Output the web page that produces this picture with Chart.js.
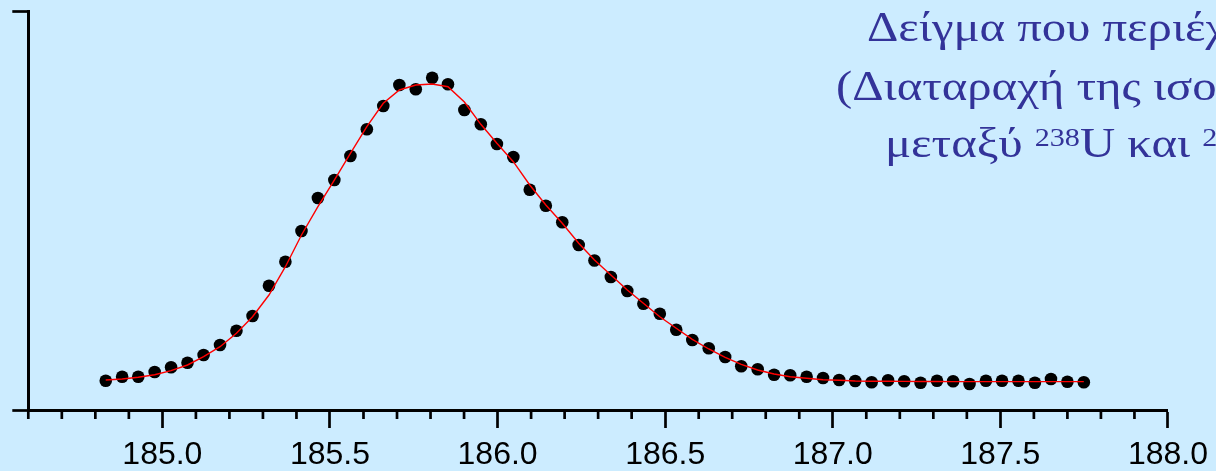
<!DOCTYPE html>
<html><head><meta charset="utf-8">
<script src="https://cdn.jsdelivr.net/npm/chart.js@4.4.1/dist/chart.umd.min.js"></script>
<style>
html,body{margin:0;padding:0;background:#CCECFF;overflow:hidden}
#wrap{position:relative;width:1216px;height:471px;overflow:hidden;background:#CCECFF}
canvas{position:absolute;left:0;top:0}
.t{position:absolute;font-family:"Liberation Serif","Times New Roman",serif;font-size:42px;line-height:42px;color:#333399;white-space:nowrap;transform:scaleX(1.16);transform-origin:0 0}
.s{font-size:26px;position:relative;top:-11px}
</style></head>
<body>
<div id="wrap">
<canvas id="c" width="1216" height="471"></canvas>
<div class="t" style="left:867px;top:6px">Δείγμα που περιέχει ουράνιο</div>
<div class="t" style="left:836px;top:65px">(Διαταραχή της ισορροπίας</div>
<div class="t" style="left:885px;top:122px">μεταξύ <span class="s">238</span>U και <span class="s">234</span>U)</div>
</div>
<script>
const xValues = [184.831,184.880,184.928,184.977,185.026,185.075,185.123,185.172,185.221,185.269,
185.318,185.367,185.415,185.464,185.513,185.561,185.610,185.659,185.707,185.756,
185.805,185.852,185.901,185.950,185.998,186.047,186.096,186.144,186.193,186.242,
186.289,186.338,186.387,186.435,186.484,186.533,186.581,186.630,186.679,186.727,
186.776,186.825,186.873,186.922,186.971,187.019,187.067,187.116,187.165,187.213,
187.262,187.311,187.359,187.408,187.457,187.505,187.554,187.603,187.651,187.700,187.749];
const yMeasured = [7.34,8.35,8.35,9.52,10.70,11.85,13.78,16.29,19.87,23.56,
31.15,37.17,44.86,53.13,57.64,63.66,70.35,76.19,81.45,80.38,
83.28,81.63,75.19,71.60,66.67,63.41,55.21,51.20,47.04,41.35,
37.47,33.33,29.82,26.64,24.14,20.13,17.54,15.46,13.28,10.95,
10.20,8.85,8.70,8.35,8.02,7.52,7.27,6.94,7.44,7.19,
6.84,7.34,7.19,6.52,7.34,7.34,7.34,6.84,7.77,7.09,6.94];
const yFit = [7.52,7.77,8.20,8.85,9.85,11.28,13.36,15.86,19.22,23.38,
28.82,35.91,43.86,50.95,57.64,64.34,71.00,76.87,80.20,81.45,
81.70,81.03,77.19,71.60,66.84,62.23,56.39,51.38,46.79,41.78,
37.59,33.83,30.08,26.74,23.38,20.48,17.72,15.29,13.21,11.45,
10.03,9.02,8.35,7.94,7.59,7.44,7.27,7.22,7.20,7.18,
7.15,7.13,7.12,7.10,7.10,7.10,7.10,7.10,7.10,7.10,7.10];
const xTickLabels = ['185.0','185.5','186.0','186.5','187.0','187.5','188.0'];
const xMin = 184.6, xMax = 188.0, xMinorStep = 0.1;
const yMin = 0, yMax = 100;

function isMajor(v){ return xTickLabels.includes((+v).toFixed(1)); }

const minorTicks = {
  id:'minorTicks',
  afterDraw(chart){
    const xs = chart.scales.x, ctx = chart.ctx;
    ctx.save();
    ctx.strokeStyle = '#000'; ctx.lineWidth = 2.7;
    xs.ticks.forEach(t => {
      if (!isMajor(t.value)) {
        const px = xs.getPixelForValue(t.value);
        ctx.beginPath(); ctx.moveTo(px, xs.top); ctx.lineTo(px, xs.top + 9); ctx.stroke();
      }
    });
    ctx.restore();
  }
};

new Chart(document.getElementById('c'), {
  type:'scatter',
  data:{datasets:[
    {label:'fit', data:xValues.map((x,i)=>({x:x,y:yFit[i]})), showLine:true, borderColor:'#FF0000', borderWidth:1.4, pointRadius:0, tension:0, order:0},
    {label:'data', data:xValues.map((x,i)=>({x:x,y:yMeasured[i]})), showLine:false, backgroundColor:'#000', borderWidth:0, pointRadius:6.3, order:1}
  ]},
  options:{
    responsive:false, animation:false, devicePixelRatio:1,
    layout:{padding:{left:12.3,right:46.7,top:11,bottom:0}},
    plugins:{legend:{display:false}, tooltip:{enabled:false}},
    scales:{
      x:{type:'linear', min:xMin, max:xMax,
        afterFit:s=>{s.height=61;},
        ticks:{stepSize:xMinorStep, autoSkip:false, maxRotation:0, minRotation:0, padding:8, color:'#000',
          font:{family:'"Liberation Sans", Arial, sans-serif', size:32},
          callback:v=>{const s=(+v).toFixed(1); return xTickLabels.includes(s)?s:'';}},
        grid:{drawOnChartArea:false, drawTicks:true, tickLength:18, tickWidth:2.7,
          tickColor:c=> (c.tick && isMajor(c.tick.value)) ? '#000' : 'rgba(0,0,0,0)'},
        border:{display:true, color:'#000', width:3}
      },
      y:{type:'linear', min:yMin, max:yMax,
        afterFit:s=>{s.width=16;},
        ticks:{display:false, stepSize:yMax-yMin},
        grid:{drawOnChartArea:false, drawTicks:true, tickLength:16, tickWidth:2.7, tickColor:'#000'},
        border:{display:true, color:'#000', width:3}
      }
    }
  },
  plugins:[minorTicks]
});
</script>
</body></html>
